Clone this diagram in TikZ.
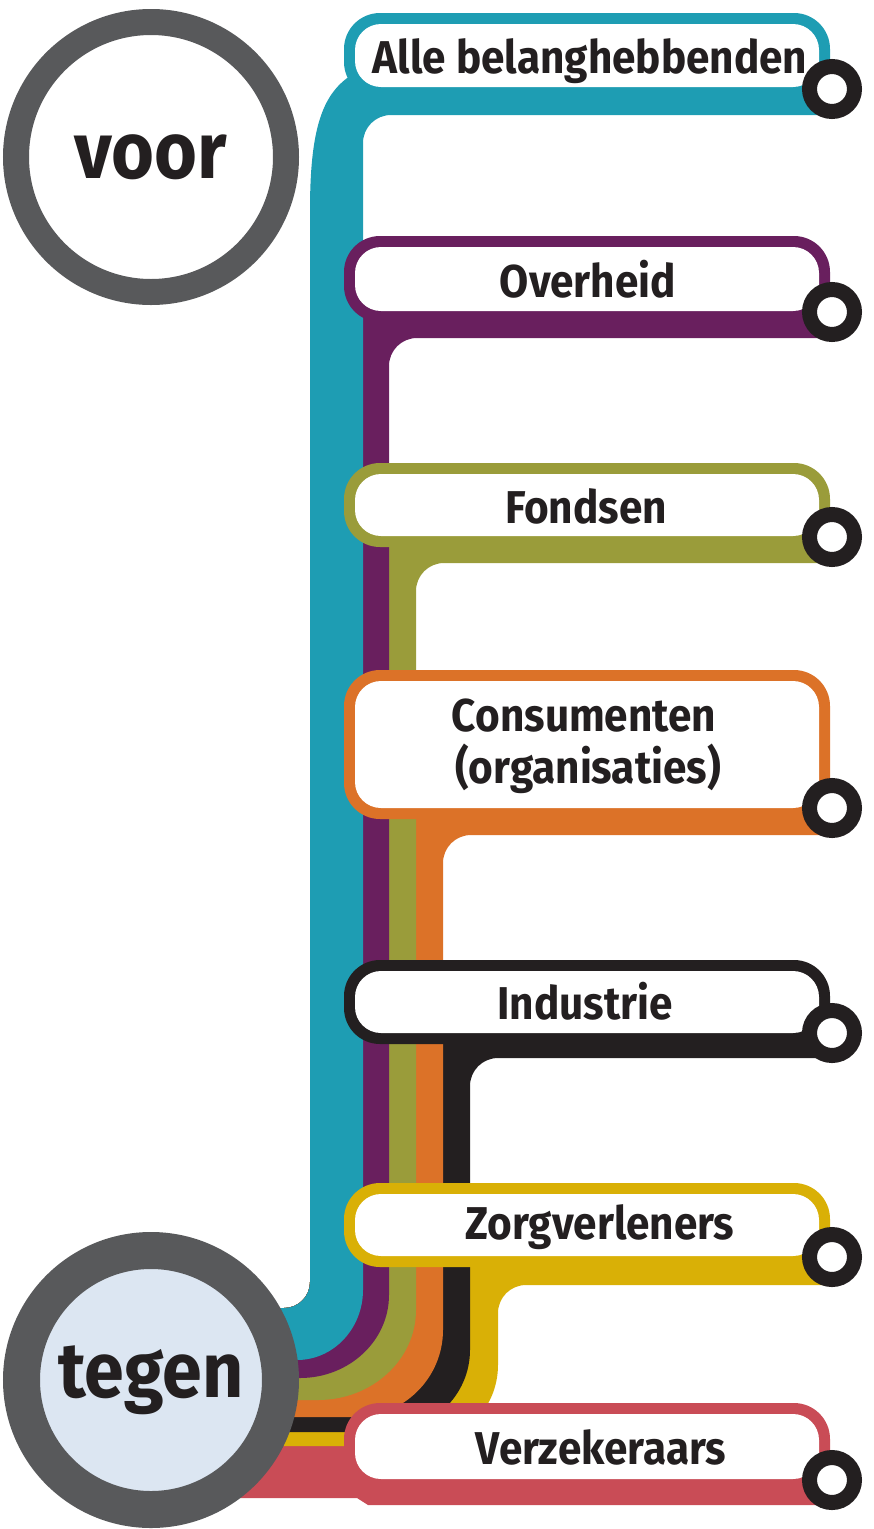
\documentclass[tikz,border=0pt]{standalone}
\usepackage{fontspec}
\newfontfamily\lblfont[FakeStretch=0.92]{Fira Sans}
\definecolor{lteal}{HTML}{1E9DB3}
\definecolor{lpurple}{HTML}{691F5E}
\definecolor{lolive}{HTML}{9A9C3A}
\definecolor{lorange}{HTML}{DC7228}
\definecolor{lblack}{HTML}{231F20}
\definecolor{lyellow}{HTML}{D9B006}
\definecolor{lred}{HTML}{C94C56}
\definecolor{ring}{HTML}{58595B}
\definecolor{tegenfill}{HTML}{DCE6F2}
% band region: color, yt, ybb, X, Ys, Xe, Y
\newcommand\bandregion[7]{%
 \fill[#1] (310,#2) -- (832,#2) -- (832,#3) -- ({#4+28},#3)
   .. controls ({#4+12.5},#3) and (#4,{#3+12.5}) .. (#4,{#3+28})
   -- (#4,#5) .. controls (#4,{#5+0.552*(#7-#5)}) and ({#6+0.552*(#4-#6)},#7) .. (#6,#7)
   -- (200,#7) -- (200,1308) -- (284,1308)
   .. controls (298.4,1308) and (310,1296.4) .. (310,1282) -- cycle;}
% label box: color, top, white bottom
\newcommand\labelbox[3]{%
 \fill[#1,rounded corners=36pt] (344,#2) rectangle (830,{#3+11});
 \fill[white,rounded corners=26pt] (355,{#2+11}) rectangle (819,#3);}
\begin{document}
\begin{tikzpicture}[x=1pt,y=-1pt,
  lbl/.style={font=\lblfont\bfseries\fontsize{46}{52}\selectfont, text=lblack, inner sep=0pt, anchor=base},
  term/.style={circle, draw=lblack, line width=15pt, fill=white, minimum size=45pt, inner sep=0pt},
  bigcirc/.style={circle, inner sep=0pt, text=lblack}]
\useasboundingbox (0,0) rectangle (874,1529);
% red line
\fill[lred] (200,1444) -- (800,1444) -- (800,1470) -- (832,1470) -- (832,1505) -- (368,1505) -- (357,1498) -- (200,1498) -- cycle;
% bands, outermost first
\bandregion{lyellow}{1241}{1285}{498}{1365}{415}{1446}
\bandregion{lblack}{1018}{1058}{470}{1350}{385}{1432}
\bandregion{lorange}{793}{835}{443}{1330}{355}{1417}
\bandregion{lolive}{521}{563}{416}{1310}{318}{1400}
\bandregion{lpurple}{296}{338}{389}{1295}{300}{1378}
% teal
\fill[lteal] (310,1282) -- (310,210) .. controls (310,130) and (322,95) .. (350,76)
  -- (832,76) -- (832,115) -- (391,115) .. controls (375.5,115) and (363,127.5) .. (363,143)
  -- (363,1290) .. controls (363,1328.6) and (333.4,1360) .. (297,1360)
  -- (200,1360) -- (200,1308) -- (284,1308) .. controls (298.4,1308) and (310,1296.4) .. (310,1282) -- cycle;
% label boxes
\labelbox{lteal}{13}{87}
\labelbox{lpurple}{236}{311}
\labelbox{lolive}{463}{536}
\labelbox{lorange}{670}{808}
\labelbox{lblack}{960}{1033}
\labelbox{lyellow}{1183}{1256}
\labelbox{lred}{1403}{1479}
% terminals
\node[term] (t1) at (832,89) {};
\node[term] (t2) at (832,312) {};
\node[term] (t3) at (832,537) {};
\node[term] (t4) at (832,808) {};
\node[term] (t5) at (832,1033) {};
\node[term] (t6) at (832,1257) {};
\node[term] (t7) at (832,1480) {};
% labels
\node[lbl] (alle) at (590,73) {Alle belanghebbenden};
\node[lbl] (overheid) at (588,297) {Overheid};
\node[lbl] (fondsen) at (586,523) {Fondsen};
\node[lbl] (cons) at (584,731) {Consumenten};
\node[lbl] (org) at (588,783) {(organisaties)};
\node[lbl] (industrie) at (585,1019) {Industrie};
\node[lbl] (zorg) at (600,1239) {Zorgverleners};
\node[lbl] (verz) at (601,1464) {Verzekeraars};
% big circles
\node[bigcirc, draw=ring, line width=26pt, fill=white, minimum size=270pt,
  font=\lblfont\bfseries\fontsize{80}{90}\selectfont] (voor) at (151,157) {voor};
\node[bigcirc, draw=ring, line width=37pt, fill=tegenfill, minimum size=259pt,
  font=\lblfont\bfseries\fontsize{78}{80}\selectfont] (tegen) at (151,1380) {tegen};
\end{tikzpicture}
\end{document}
